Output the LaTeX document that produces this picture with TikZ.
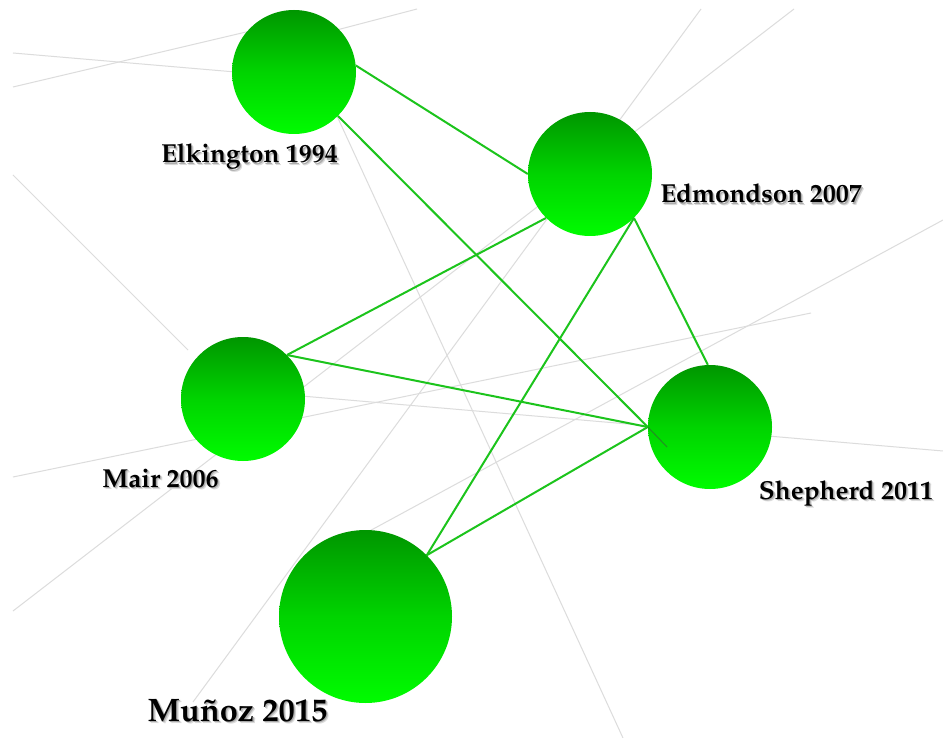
\documentclass[tikz,border=0pt]{standalone}
\usepackage[T1]{fontenc}
\renewcommand{\rmdefault}{ppl}
\definecolor{bubbletop}{RGB}{0,150,0}
\definecolor{bubblemid}{RGB}{0,212,0}
\definecolor{bubblebot}{RGB}{0,252,0}
\definecolor{linkgreen}{RGB}{28,196,28}
\definecolor{stubgreen}{RGB}{40,130,40}
\definecolor{faint}{RGB}{220,220,220}
\tikzset{
  bgline/.style={draw=faint, line width=1pt},
  link/.style={draw=linkgreen, line width=2pt},
  stub/.style={draw=stubgreen, line width=1.1pt, opacity=0.8},
  bubble/.style={circle, inner sep=0pt, draw=none, top color=bubbletop, bottom color=bubblebot, middle color=bubblemid},
  lbl/.style={font=\bfseries\fontsize{26}{31}\selectfont, anchor=base, text=black, inner sep=0pt},
  biglbl/.style={lbl, font=\bfseries\fontsize{32.5}{39}\selectfont},
}
% text with a soft drop shadow set behind it in the same box
\newcommand{\softshadow}[1]{%
  \rlap{\kern2.4pt\raisebox{-2.4pt}{\textcolor{black!14}{#1}}}%
  \rlap{\kern1.3pt\raisebox{-1.3pt}{\textcolor{black!32}{#1}}}%
  #1}
\begin{document}
\begin{tikzpicture}[x=1pt,y=-1pt]
\fill[white] (0,0) rectangle (943,738);
\useasboundingbox (0,0) rectangle (943,738);

% faint background links
\coordinate (g1a) at (13,53);   \coordinate (g1b) at (294,77);
\coordinate (g2a) at (13,87);   \coordinate (g2b) at (280,24);
\coordinate (g3a) at (417,9);   \coordinate (g3b) at (310,37);
\coordinate (g4a) at (13,175);  \coordinate (g4b) at (188,350);
\coordinate (g5a) at (320,79);  \coordinate (g5b) at (623,738);
\coordinate (g6a) at (701,9);   \coordinate (g6b) at (193,702);
\coordinate (g7a) at (794,9);   \coordinate (g7b) at (13,611);
\coordinate (g8a) at (943,220); \coordinate (g8b) at (340,547);
\coordinate (g9a) at (811,313); \coordinate (g9b) at (13,477);
\coordinate (g10a) at (243,391); \coordinate (g10b) at (943,451);
\foreach \i in {1,...,10}{\draw[bgline] (g\i a) -- (g\i b);}

% nodes
\node[bubble, minimum size=124pt] (elk)  at (294,72)  {};
\node[bubble, minimum size=124pt] (edm)  at (590,174) {};
\node[bubble, minimum size=124pt] (mair) at (243,399) {};
\node[bubble, minimum size=124pt] (shep) at (710,427) {};
\node[bubble, minimum size=173pt] (mun)  at (365.5,616.5) {};

% links
\draw[link] (elk.6)   -- (edm.180);
\draw[link] (elk.-45) -- (shep.180);
\draw[link] (mair.45) -- (edm.225);
\draw[link] (mair.45) -- (shep.180);
\draw[link] (edm.-45) -- (mun.45);
\draw[link] (edm.-45) -- (shep.92);
\draw[link] (mun.45)  -- (shep.180);
\coordinate (stubend) at (667,447);
\draw[stub] (shep.180) -- (stubend);

% labels
\node[lbl]    (elkl)  at (249.5,163) {\softshadow{Elkington 1994}};
\node[lbl]    (edml)  at (761,203)   {\softshadow{Edmondson 2007}};
\node[lbl]    (mairl) at (160.5,487) {\softshadow{Mair 2006}};
\node[lbl]    (shepl) at (846,499)   {\softshadow{Shepherd 2011}};
\node[biglbl] (munl)  at (237.5,721) {\softshadow{Mu\~noz 2015}};
\end{tikzpicture}
\end{document}
